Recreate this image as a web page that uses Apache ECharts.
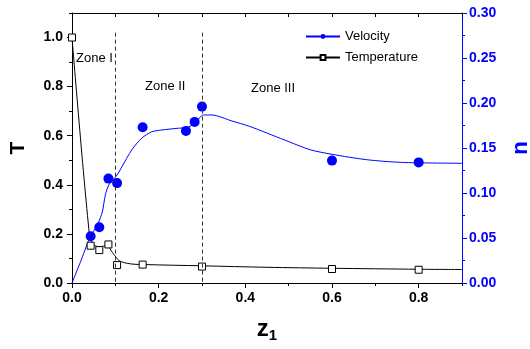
<!DOCTYPE html>
<html>
<head>
<meta charset="utf-8">
<script src="https://cdn.jsdelivr.net/npm/echarts@6/dist/echarts.min.js"></script>
<style>
  html, body { margin: 0; padding: 0; background: #fff; }
  #chart { width: 530px; height: 349px; }
</style>
</head>
<body>
<div id="chart"></div>
<script>
// measured points
const velZ = [0.043, 0.063, 0.084, 0.104, 0.163, 0.263, 0.283, 0.30, 0.60, 0.80];
const velU = [0.052, 0.062, 0.116, 0.111, 0.173, 0.169, 0.179, 0.196, 0.136, 0.134];
const tempZ = [0, 0.043, 0.063, 0.084, 0.104, 0.163, 0.30, 0.60, 0.80];
const tempT = [1.0, 0.152, 0.134, 0.157, 0.073, 0.075, 0.067, 0.057, 0.054];

// fitted curves
const velFitZ = [0, 0.02, 0.04, 0.06, 0.07, 0.077, 0.085, 0.104, 0.115, 0.138, 0.161, 0.184, 0.207, 0.246, 0.265, 0.284, 0.303, 0.323, 0.369, 0.41, 0.49, 0.55, 0.6, 0.68, 0.76, 0.9];
const velFitU = [0, 0.024, 0.049, 0.066, 0.079, 0.098, 0.109, 0.12, 0.129, 0.148, 0.161, 0.168, 0.170, 0.172, 0.1726, 0.1775, 0.1867, 0.1867, 0.18, 0.174, 0.159, 0.148, 0.143, 0.137, 0.134, 0.133];
const tempFitZ = [0, 0.04, 0.05, 0.065, 0.08, 0.095, 0.11, 0.135, 0.17, 0.3, 0.45, 0.6, 0.8, 0.9];
const tempFitT = [1.0, 0.2, 0.155, 0.148, 0.152, 0.12, 0.09, 0.078, 0.075, 0.07, 0.064, 0.06, 0.056, 0.055];

// zone boundaries
const zoneLines = [0.1, 0.3];

const zip = (a, b) => a.map((v, i) => [v, b[i]]);
const FONT = "Liberation Sans, Arial, sans-serif";
const BLUE = "#0000ff";

const chart = echarts.init(document.getElementById("chart"));

const tickLabel = (digits, color) => ({
  show: true,
  color: color,
  fontFamily: FONT,
  fontWeight: "bold",
  fontSize: 14,
  formatter: (v) => v.toFixed(digits),
});

const option = {
  animation: false,
  backgroundColor: "#fff",
  grid: { left: 72, right: 68, top: 13, bottom: 66, outerBoundsMode: "none", containLabel: false },
  legend: {
    left: 300,
    top: 25,
    orient: "vertical",
    itemGap: 8,
    itemWidth: 34,
    itemHeight: 6,
    textStyle: { fontFamily: FONT, fontSize: 13, color: "#000" },
    data: ["Velocity", "Temperature"],
  },
  xAxis: [
    {
      type: "value", position: "bottom", min: 0, max: 0.9, interval: 0.2,
      name: "{z|z}{s|1}", nameLocation: "middle", nameGap: 33,
      nameTextStyle: {
        rich: {
          z: { fontFamily: FONT, fontWeight: "bold", fontSize: 24, color: "#000" },
          s: { fontFamily: FONT, fontWeight: "bold", fontSize: 15, color: "#000", padding: [12, 0, 0, 0] },
        },
      },
      axisLine: { onZero: false, lineStyle: { color: "#000", width: 1 } },
      axisTick: { length: 5, lineStyle: { color: "#000" } },
      axisLabel: Object.assign(tickLabel(1, "#000"), { margin: 8, showMaxLabel: false }),
      splitLine: { show: false },
    },
    {
      type: "value", position: "bottom", min: 0, max: 0.9, interval: 0.1,
      axisLine: { show: false, onZero: false },
      axisTick: { length: 3, lineStyle: { color: "#000" } },
      axisLabel: { show: false },
      splitLine: { show: false },
    },
    {
      type: "value", position: "top", min: 0, max: 0.9, interval: 0.1,
      axisLine: { onZero: false, lineStyle: { color: "#000", width: 1 } },
      axisTick: { inside: true, length: 4, lineStyle: { color: "#000" } },
      axisLabel: { show: false },
      splitLine: { show: false },
    },
  ],
  yAxis: [
    {
      type: "value", position: "left", min: 0, max: 1.1, interval: 0.2,
      name: "T", nameLocation: "middle", nameGap: 43, nameRotate: 90,
      nameTextStyle: { fontFamily: FONT, fontWeight: "bold", fontSize: 21, color: "#000" },
      axisLine: { onZero: false, lineStyle: { color: "#000", width: 1 } },
      axisTick: { length: 5, lineStyle: { color: "#000" } },
      axisLabel: Object.assign(tickLabel(1, "#000"), { margin: 9, showMaxLabel: false }),
      splitLine: { show: false },
    },
    {
      type: "value", position: "left", min: 0, max: 1.1, interval: 0.1,
      axisLine: { show: false, onZero: false },
      axisTick: { length: 3, lineStyle: { color: "#000" } },
      axisLabel: { show: false },
      splitLine: { show: false },
    },
    {
      type: "value", position: "right", min: 0, max: 0.3, interval: 0.05,
      name: "u", nameLocation: "middle", nameGap: 48, nameRotate: -90,
      nameTextStyle: { fontFamily: FONT, fontWeight: "bold", fontSize: 22, color: BLUE },
      axisLine: { onZero: false, lineStyle: { color: BLUE, width: 1 } },
      axisTick: { length: 5, lineStyle: { color: BLUE } },
      minorTick: { show: true, splitNumber: 2, length: 3, lineStyle: { color: BLUE } },
      axisLabel: Object.assign(tickLabel(2, BLUE), { margin: 7 }),
      splitLine: { show: false },
    },
  ],
  graphic: [
    { type: "text", left: 76, top: 52, style: { text: "Zone I", fontFamily: FONT, fontSize: 13, fill: "#000" } },
    { type: "text", left: 145, top: 80, style: { text: "Zone II", fontFamily: FONT, fontSize: 13, fill: "#000" } },
    { type: "text", left: 251, top: 82, style: { text: "Zone III", fontFamily: FONT, fontSize: 13, fill: "#000" } },
  ],
  series: [
    {
      name: "Temperature", type: "line", xAxisIndex: 0, yAxisIndex: 0,
      data: zip(tempFitZ, tempFitT), smooth: 0.3,
      symbol: "rect", symbolSize: 7, showSymbol: false,
      lineStyle: { color: "#000", width: 1 },
      itemStyle: { color: "#fff", borderColor: "#000", borderWidth: 1 },
      markLine: {
        silent: true, symbol: "none", label: { show: false },
        lineStyle: { color: "#333", width: 1, type: [4, 3] },
        data: zoneLines.map((z) => [{ coord: [z, 1.02] }, { coord: [z, 0] }]),
      },
    },
    {
      name: "Velocity", type: "line", xAxisIndex: 0, yAxisIndex: 2,
      data: zip(velFitZ, velFitU), smooth: 0.25,
      symbol: "circle", symbolSize: 9, showSymbol: false,
      lineStyle: { color: BLUE, width: 1 },
      itemStyle: { color: BLUE },
    },
    {
      name: "Temperature data", type: "scatter", xAxisIndex: 0, yAxisIndex: 0,
      data: zip(tempZ, tempT), symbol: "rect", symbolSize: 7,
      itemStyle: { color: "#fff", borderColor: "#000", borderWidth: 1, opacity: 1 },
      z: 3,
    },
    {
      name: "Velocity data", type: "scatter", xAxisIndex: 0, yAxisIndex: 2,
      data: zip(velZ, velU), symbol: "circle", symbolSize: 10,
      itemStyle: { color: BLUE, opacity: 1 },
      z: 3,
    },
  ],
};

chart.setOption(option);
</script>
</body>
</html>
